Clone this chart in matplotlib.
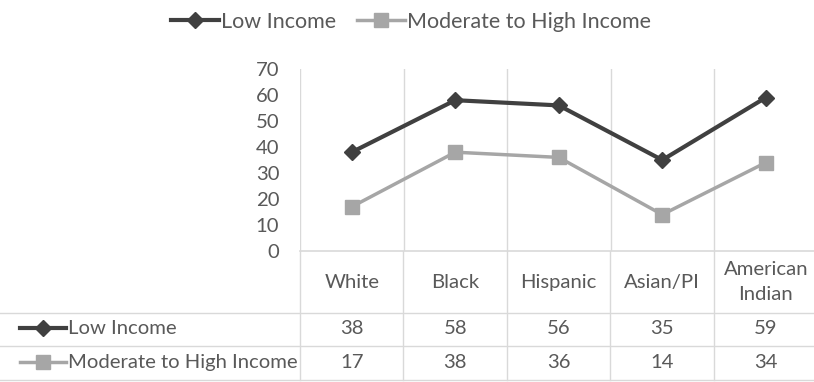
import matplotlib
matplotlib.use("Agg")
import matplotlib.pyplot as plt
from matplotlib.lines import Line2D

categories = ["White", "Black", "Hispanic", "Asian/PI", "American\nIndian"]
series_names = ["Low Income", "Moderate to High Income"]
low_income = [38, 58, 56, 35, 59]
moderate_high = [17, 38, 36, 14, 34]
yticks = [0, 10, 20, 30, 40, 50, 60, 70]

plt.rcParams['font.family'] = ['Lato', 'DejaVu Sans']
TXT = "#595959"
GRID = "#d9d9d9"
C_LOW = "#404040"
C_MOD = "#a6a6a6"
FS = 14.6
FS_LEG = 15.5

W, H = 814, 382
fig = plt.figure(figsize=(W / 100, H / 100), dpi=100)

left_px, cat_w = 300, 103.5
top_px, zero_px = 69, 251
n = len(categories)
ax = fig.add_axes([left_px / W, 1 - zero_px / H, n * cat_w / W, (zero_px - top_px) / H])
xs = list(range(n))
ax.plot(xs, low_income, color=C_LOW, lw=3, marker='D', ms=8.5, mfc=C_LOW, mec=C_LOW, zorder=3)
ax.plot(xs, moderate_high, color=C_MOD, lw=2.5, marker='s', ms=9.5, mfc=C_MOD, mec=C_MOD, zorder=3)
ax.set_xlim(-0.5, n - 0.5)
ax.set_ylim(0, 70)
ax.set_yticks(yticks)
ax.set_yticklabels([str(t) for t in yticks], fontsize=FS, color=TXT)
ax.tick_params(axis='y', length=0, pad=15)
ax.set_xticks([])
for s in ['top', 'right', 'left']:
    ax.spines[s].set_visible(False)
ax.spines['bottom'].set_color(GRID)
ax.spines['bottom'].set_linewidth(1.2)
for b in [i - 0.5 for i in range(n + 1)]:
    ax.axvline(b, color=GRID, lw=1, zorder=0)
ax.patch.set_alpha(0)

# data table
tax = fig.add_axes([0, 0, (left_px + n * cat_w) / W, (H - zero_px) / H])
tax.set_xlim(-0.5 - left_px / cat_w, n - 0.5)
tax.set_ylim(H, zero_px)
tax.axis('off')
x0 = -0.5 - left_px / cat_w
row_lines = [313, 346, 380]
for y in row_lines:
    tax.plot([x0, n - 0.5], [y, y], color=GRID, lw=1)
for b in [i - 0.5 for i in range(n + 1)]:
    tax.plot([b, b], [zero_px, 380], color=GRID, lw=1)
for i, c in enumerate(categories):
    tax.text(i, 282, c, ha='center', va='center', fontsize=FS, color=TXT, linespacing=1.55)
rows = [(low_income, C_LOW, 'D', 3, 8.5, 328), (moderate_high, C_MOD, 's', 2.5, 9.5, 362)]
for (vals, col, mk, lw, ms, yc), name in zip(rows, series_names):
    kx0 = x0 + 20 / cat_w
    kx1 = x0 + 66 / cat_w
    tax.plot([kx0, kx1], [yc, yc], color=col, lw=lw)
    tax.plot([(kx0 + kx1) / 2], [yc], marker=mk, ms=ms, color=col)
    tax.text(x0 + 68 / cat_w, yc, name, ha='left', va='center', fontsize=FS, color=TXT)
    for i, v in enumerate(vals):
        tax.text(i, yc, str(v), ha='center', va='center', fontsize=FS, color=TXT)

handles = [Line2D([], [], color=C_LOW, lw=3, marker='D', ms=8.5),
           Line2D([], [], color=C_MOD, lw=2.5, marker='s', ms=9.5)]
fig.legend(handles, series_names, loc='center', bbox_to_anchor=(411 / W, 1 - 22 / H),
           ncol=2, frameon=False, fontsize=FS_LEG, handlelength=2.2, handletextpad=0.1,
           columnspacing=1.0, labelcolor=TXT)

fig.savefig("out.png", dpi=100)
